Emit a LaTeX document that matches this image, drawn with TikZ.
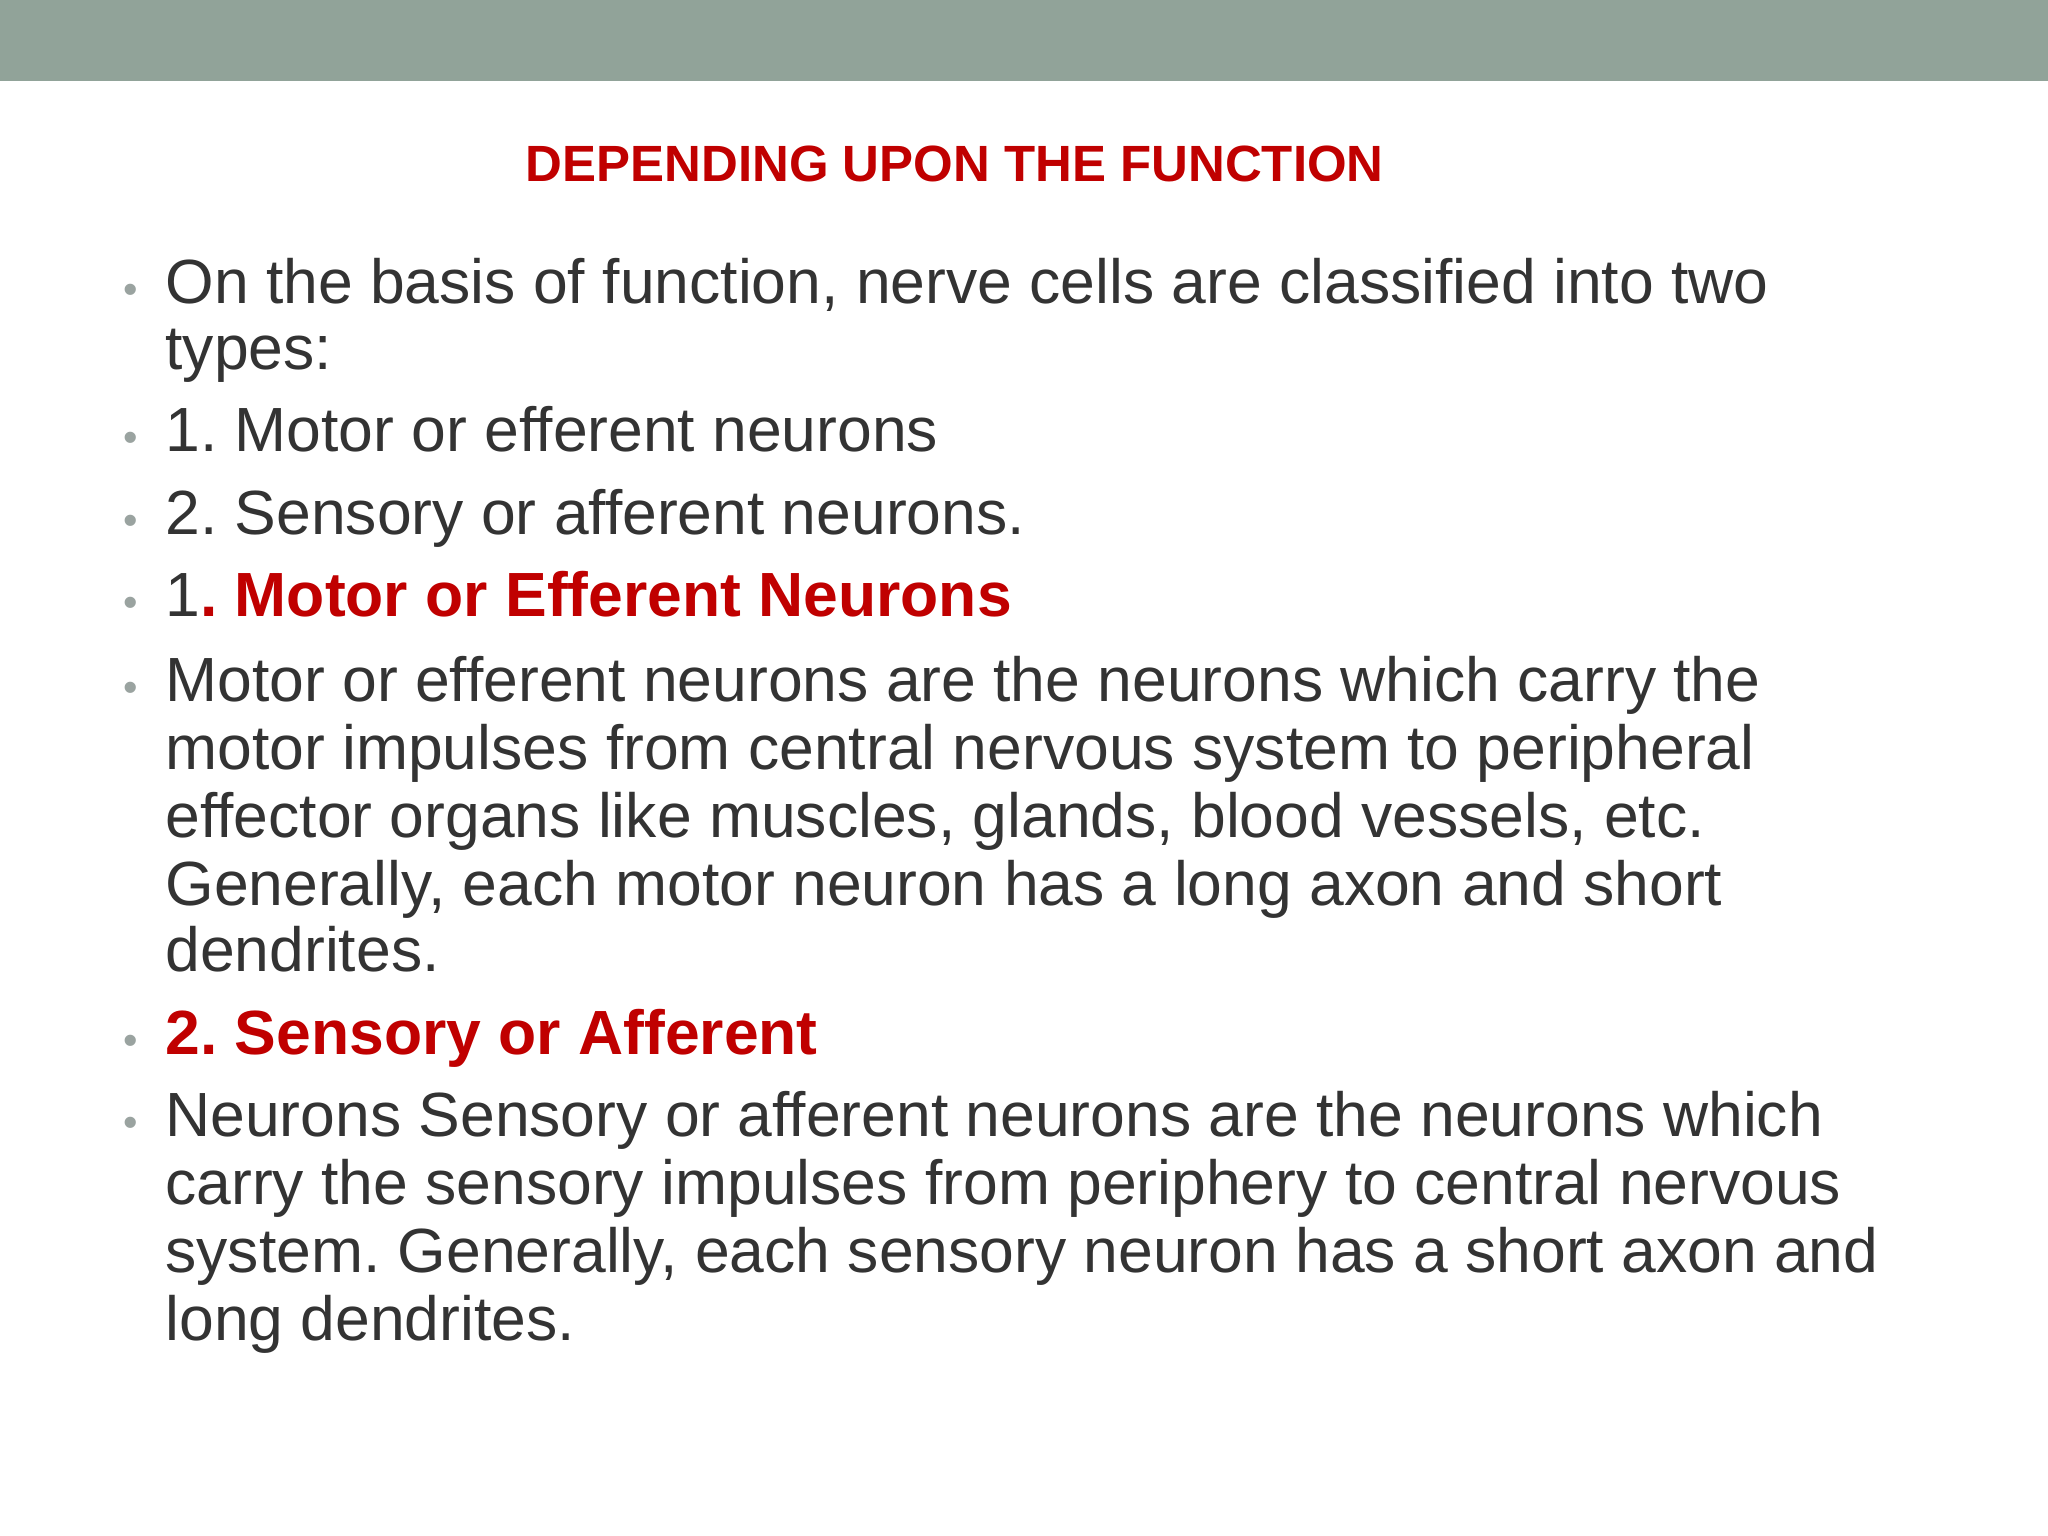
\documentclass[tikz,border=0pt]{standalone}
\usepackage{fontspec}
\setmainfont{Liberation Sans}
\frenchspacing
\definecolor{bar}{HTML}{91A399}
\definecolor{txt}{HTML}{333333}
\definecolor{redt}{HTML}{C00000}
\definecolor{bul}{HTML}{9AA3A0}
\tikzset{
  line/.style={anchor=base west,inner sep=0pt,text=txt,font=\fontsize{13.6pt}{15pt}\selectfont},
  bull/.style={anchor=base,inner sep=0pt,text=bul,font=\fontsize{9pt}{10pt}\selectfont},
}
\begin{document}
\begin{tikzpicture}[x=1cm,y=-1cm]
\useasboundingbox (0,0) rectangle (15.68,11.76);
\fill[white] (0,0) rectangle (15.68,11.76);
\fill[bar] (0,0) rectangle (15.68,0.62);
\node[anchor=base,inner sep=0pt,text=redt,font=\fontsize{11.1pt}{12pt}\selectfont\bfseries] (title) at (7.31,1.39) {DEPENDING UPON THE FUNCTION};
\foreach \y in {2.32,3.46,4.09,4.72,5.37,8.07,8.70}{\node[bull] at (1.00,\y) {•};}
\node[line] (l1) at (1.26,2.32) {On the basis of function, nerve cells are classified into two};
\node[line] (l2) at (1.26,2.83) {types:};
\node[line] (l3) at (1.26,3.46) {1. Motor or efferent neurons};
\node[line] (l4) at (1.26,4.09) {2. Sensory or afferent neurons.};
\node[line] (l5) at (1.26,4.72) {1\textcolor{redt}{\bfseries. Motor or Efferent Neurons}};
\node[line] (l6) at (1.26,5.37) {Motor or efferent neurons are the neurons which carry the};
\node[line] (l7) at (1.26,5.89) {motor impulses from central nervous system to peripheral};
\node[line] (l8) at (1.26,6.41) {effector organs like muscles, glands, blood vessels, etc.};
\node[line] (l9) at (1.26,6.93) {Generally, each motor neuron has a long axon and short};
\node[line] (l10) at (1.26,7.44) {dendrites.};
\node[line,text=redt,font=\fontsize{13.6pt}{15pt}\selectfont\bfseries] (l11) at (1.26,8.07) {2. Sensory or Afferent};
\node[line] (l12) at (1.26,8.70) {Neurons Sensory or afferent neurons are the neurons which};
\node[line] (l13) at (1.26,9.22) {carry the sensory impulses from periphery to central nervous};
\node[line] (l14) at (1.26,9.74) {system. Generally, each sensory neuron has a short axon and};
\node[line] (l15) at (1.26,10.26) {long dendrites.};
\end{tikzpicture}
\end{document}
